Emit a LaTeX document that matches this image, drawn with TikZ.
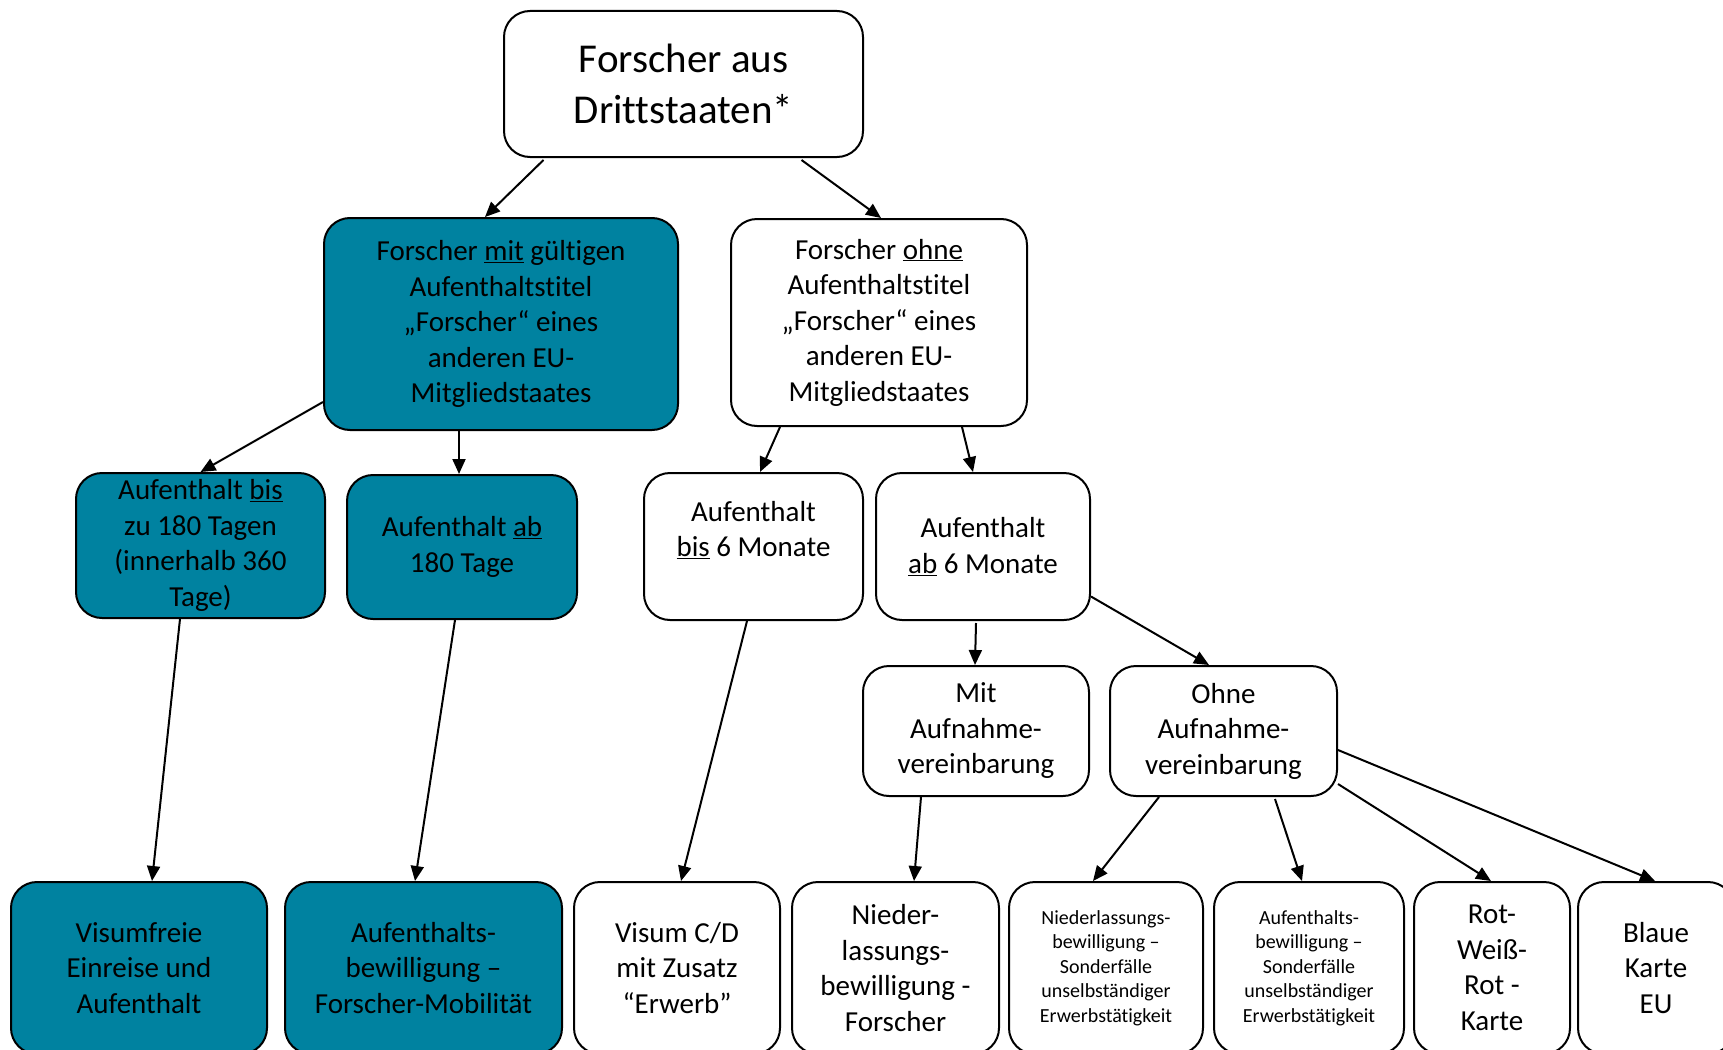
\documentclass[tikz,border=0pt]{standalone}
\usepackage{fontspec}
\setmainfont{Carlito}[Ligatures={NoCommon,NoContextual},RawFeature={-liga;-clig;-calt}]
\usetikzlibrary{arrows.meta}
\definecolor{petrol}{RGB}{0,130,160}

\begin{document}
\begin{tikzpicture}[x=1pt,y=-1pt,
    box/.style={draw,line width=2pt,rounded corners=26pt,align=center,inner sep=0pt,
      font=\fontsize{29}{35.5}\selectfont},
    pbox/.style={box,fill=petrol},
    small/.style={font=\fontsize{20}{24.5}\selectfont},
    arr/.style={-{Triangle[length=15pt,width=13pt]},line width=2pt}]
  \clip (0,0) rectangle (1723,1049);
  \fill[white] (0,0) rectangle (1723,1049);
  % top
  \node[box,minimum width=359pt,minimum height=146pt,font=\fontsize{41}{50.5}\selectfont] (top) at (683.5,84) {Forscher aus\\Drittstaaten*};
  \node[pbox,minimum width=354pt,minimum height=212pt] (mit) at (501,324) {Forscher \underline{mit} gültigen\\Aufenthaltstitel\\„Forscher“ eines\\anderen EU-\\Mitgliedstaates};
  \node[box,minimum width=296pt,minimum height=207pt] (ohne) at (879,322.5) {Forscher \underline{ohne}\\Aufenthaltstitel\\„Forscher“ eines\\anderen EU-\\Mitgliedstaates};
  % second row
  \node[pbox,minimum width=249pt,minimum height=145pt] (bis180) at (200.5,545.5) {Aufenthalt \underline{bis}\\zu 180 Tagen\\(innerhalb 360\\Tage)};
  \node[pbox,minimum width=230pt,minimum height=144pt] (ab180) at (462,547) {Aufenthalt \underline{ab}\\180 Tage};
  \node[box,minimum width=219pt,minimum height=147pt] (bis6) at (753.5,546.5) {Aufenthalt\\\underline{bis} 6 Monate\\~};
  \node[box,minimum width=214pt,minimum height=147pt] (ab6) at (983,546.5) {Aufenthalt\\\underline{ab} 6 Monate};
  \node[box,minimum width=226pt,minimum height=130pt] (mitv) at (976,731) {Mit\\Aufnahme-\\vereinbarung};
  \node[box,minimum width=227pt,minimum height=130pt] (ohnev) at (1223.5,731) {Ohne\\Aufnahme-\\vereinbarung};
  % bottom row
  \node[pbox,minimum width=256pt,minimum height=172pt] (visfrei) at (139,968) {Visumfreie\\Einreise und\\Aufenthalt};
  \node[pbox,minimum width=277pt,minimum height=172pt] (mobil) at (423.5,968) {Aufenthalts-\\bewilligung –\\Forscher-Mobilität};
  \node[box,minimum width=206pt,minimum height=172pt] (visum) at (677,968) {Visum C/D\\mit Zusatz\\“Erwerb”};
  \node[box,minimum width=207pt,minimum height=172pt] (nlbf) at (895.5,968) {Nieder-\\lassungs-\\bewilligung -\\Forscher};
  \node[box,small,minimum width=194pt,minimum height=172pt] (nlbs) at (1106,968) {Niederlassungs-\\bewilligung –\\Sonderfälle\\unselbständiger\\Erwerbstätigkeit};
  \node[box,small,minimum width=190pt,minimum height=172pt] (abs) at (1309,968) {Aufenthalts-\\bewilligung –\\Sonderfälle\\unselbständiger\\Erwerbstätigkeit};
  \node[box,minimum width=156pt,minimum height=172pt] (rwr) at (1492,968) {Rot-\\Weiß-\\Rot -\\Karte};
  \node[box,minimum width=156pt,minimum height=172pt] (blau) at (1656,968) {Blaue\\Karte\\EU};
  % arrows
  \draw[arr] ([xshift=-140pt,yshift=-2pt]top.south) -- ([xshift=-16pt]mit.north);
  \draw[arr] ([xshift=118pt,yshift=-2pt]top.south) -- ([xshift=2pt]ohne.north);
  \draw[arr] ([yshift=-78pt]mit.west) -- (bis180.north);
  \draw[arr] ([xshift=-42pt]mit.south) -- ([xshift=-3pt]ab180.north);
  \draw[arr] ([xshift=-99pt]ohne.south) -- ([xshift=6.5pt]bis6.north);
  \draw[arr] ([xshift=83pt]ohne.south) -- ([xshift=-10pt]ab6.north);
  \draw[arr] ([xshift=-7pt,yshift=-2pt]ab6.south) -- ([xshift=-1pt]mitv.north);
  \draw[arr] ([yshift=-50pt]ab6.east) -- ([xshift=-14.5pt]ohnev.north);
  \draw[arr] ([xshift=-20.5pt]bis180.south) -- ([xshift=13pt]visfrei.north);
  \draw[arr] ([xshift=-7pt]ab180.south) -- ([xshift=-8.5pt]mobil.north);
  \draw[arr] ([xshift=-6.5pt]bis6.south) -- ([xshift=4pt]visum.north);
  \draw[arr] ([xshift=-55pt]mitv.south) -- ([xshift=18.5pt]nlbf.north);
  \draw[arr] ([xshift=-64.5pt]ohnev.south) -- ([xshift=-13pt]nlbs.north);
  \draw[arr] ([xshift=51.5pt,yshift=-2pt]ohnev.south) -- ([xshift=-7pt]abs.north);
  \draw[arr] ([yshift=-53pt]ohnev.east) -- ([xshift=-1pt]rwr.north);
  \draw[arr] ([yshift=-19pt]ohnev.east) -- ([xshift=-1pt]blau.north);
\end{tikzpicture}
\end{document}
